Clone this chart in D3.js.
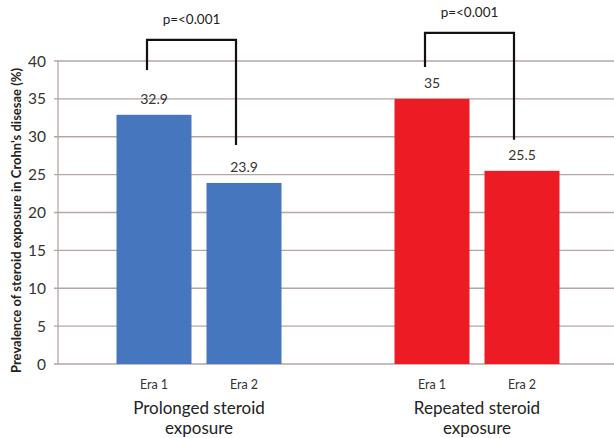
<!DOCTYPE html>
<html><head><meta charset="utf-8">
<script src="https://cdn.jsdelivr.net/npm/d3@7"></script>
<style>html,body{margin:0;padding:0;background:#fff;}svg{display:block;font-family:Lato,"Open Sans",sans-serif;}</style>
</head><body><svg id="c" width="614" height="438"></svg>
<script>
const groups = ["Prolonged steroid exposure", "Repeated steroid exposure"];
const groupLines = [["Prolonged steroid", "exposure"], ["Repeated steroid", "exposure"]];
const eras = ["Era 1", "Era 2"];
const prolonged = [32.9, 23.9];
const repeated = [35, 25.5];
const valueLabels = [["32.9", "23.9"], ["35", "25.5"]];
const groupColors = ["#4677be", "#ed1c24"];
const yTicks = [0, 5, 10, 15, 20, 25, 30, 35, 40];
const pLabels = ["p=<0.001", "p=<0.001"];
const bracketTop = [42.8, 43.7];
const bracketLeftEnd = [38.8, 39.2];
const bracketRightEnd = [28.9, 29.6];
const yTitle = "Prevalence of steroid exposure in Crohn's disesae (%)";

const series = [prolonged, repeated];
const svg = d3.select("#c");
const mLeft = 58, mRight = 614, mTop = 61, mBottom = 364;

const y = d3.scaleLinear().domain([0, 40]).range([mBottom, mTop]);
const x0 = d3.scaleBand().domain(groups).range([60, 616]).padding(0);
const gw = x0.bandwidth();
const x1 = d3.scaleBand().domain(eras).range([(gw - 165) / 2, (gw + 165) / 2]).paddingInner(1/6).paddingOuter(0);

// gridlines
svg.append("g").selectAll("line").data(yTicks).join("line")
  .attr("x1", mLeft - 4).attr("x2", mRight)
  .attr("y1", d => y(d)).attr("y2", d => y(d))
  .attr("stroke", "#b5a6a2").attr("stroke-width", 1.3);

// y axis line
svg.append("line").attr("x1", mLeft).attr("x2", mLeft).attr("y1", y(40)).attr("y2", y(0))
  .attr("stroke", "#b5a6a2").attr("stroke-width", 1.3);

// y tick labels
svg.append("g").selectAll("text").data(yTicks).join("text")
  .attr("x", mLeft - 12).attr("y", d => y(d)).attr("dy", "0.36em")
  .attr("text-anchor", "end").attr("font-size", 15.5).attr("fill", "#333")
  .text(d => d);

// y title
svg.append("text").attr("transform", `translate(21,${(mTop + mBottom) / 2 + 8}) rotate(-90)`)
  .attr("text-anchor", "middle").attr("font-size", 13).attr("font-weight", "bold").attr("fill", "#222")
  .text(yTitle);

groups.forEach((g, gi) => {
  const gx = x0(g);
  const G = svg.append("g").attr("transform", `translate(${gx},0)`);
  G.selectAll("rect").data(series[gi]).join("rect")
    .attr("x", (d, i) => x1(eras[i])).attr("width", x1.bandwidth())
    .attr("y", d => y(d)).attr("height", d => y(0) - y(d))
    .attr("fill", groupColors[gi]);
  G.selectAll("text.v").data(series[gi]).join("text").attr("class", "v")
    .attr("x", (d, i) => x1(eras[i]) + x1.bandwidth() / 2)
    .attr("y", d => y(d) - 11)
    .attr("text-anchor", "middle").attr("font-size", 14).attr("fill", "#333")
    .text((d, i) => valueLabels[gi][i]);
  G.selectAll("text.e").data(eras).join("text").attr("class", "e")
    .attr("x", d => x1(d) + x1.bandwidth() / 2).attr("y", mBottom + 25)
    .attr("text-anchor", "middle").attr("font-size", 12.5).attr("fill", "#333")
    .text(d => d);
  G.selectAll("text.g").data(groupLines[gi]).join("text").attr("class", "g")
    .attr("x", x1.range()[0] + 165 / 2).attr("y", (d, i) => mBottom + 50 + i * 20)
    .attr("text-anchor", "middle").attr("font-size", 17).attr("fill", "#222")
    .text(d => d);
  // bracket
  const lx = x1(eras[0]) + x1.bandwidth() / 2 - 7;
  const rx = x1(eras[1]) + x1.bandwidth() / 2 - 8;
  G.append("path")
    .attr("d", `M${lx},${y(bracketLeftEnd[gi])}V${y(bracketTop[gi])}H${rx}V${y(bracketRightEnd[gi])}`)
    .attr("fill", "none").attr("stroke", "#111").attr("stroke-width", 2.2);
  G.append("text").attr("x", (lx + rx) / 2).attr("y", y(bracketTop[gi]) - 16)
    .attr("text-anchor", "middle").attr("font-size", 13.5).attr("fill", "#222")
    .text(pLabels[gi]);
});
</script></body></html>
